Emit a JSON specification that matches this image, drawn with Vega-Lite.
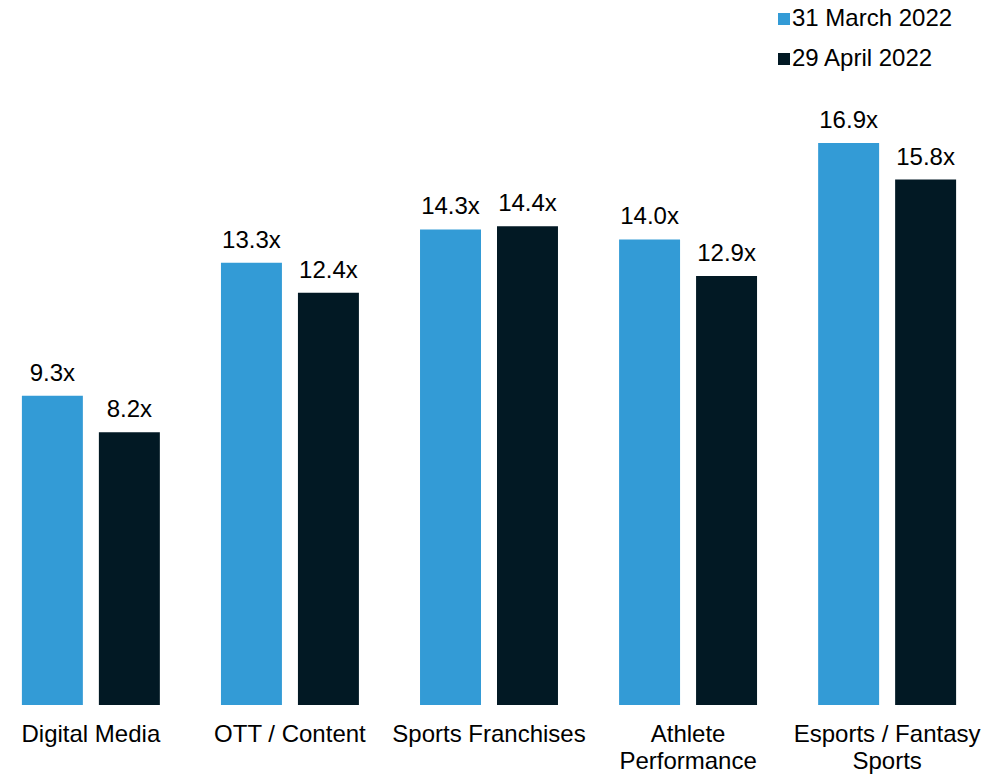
{
  "$schema": "https://vega.github.io/schema/vega-lite/v6.json",
  "autosize": "none",
  "width": 978,
  "height": 705,
  "padding": {"left": 0, "top": 0, "right": 26, "bottom": 69},
  "background": "white",
  "config": {"view": {"stroke": null}, "font": "Liberation Sans"},
  "data": {"values": [
    {"category": "Digital Media", "date": "31 March 2022", "value": 9.3, "label": "9.3x"},
    {"category": "Digital Media", "date": "29 April 2022", "value": 8.2, "label": "8.2x"},
    {"category": "OTT / Content", "date": "31 March 2022", "value": 13.3, "label": "13.3x"},
    {"category": "OTT / Content", "date": "29 April 2022", "value": 12.4, "label": "12.4x"},
    {"category": "Sports Franchises", "date": "31 March 2022", "value": 14.3, "label": "14.3x"},
    {"category": "Sports Franchises", "date": "29 April 2022", "value": 14.4, "label": "14.4x"},
    {"category": "Athlete Performance", "date": "31 March 2022", "value": 14.0, "label": "14.0x"},
    {"category": "Athlete Performance", "date": "29 April 2022", "value": 12.9, "label": "12.9x"},
    {"category": "Esports / Fantasy Sports", "date": "31 March 2022", "value": 16.9, "label": "16.9x"},
    {"category": "Esports / Fantasy Sports", "date": "29 April 2022", "value": 15.8, "label": "15.8x"}
  ]},
  "encoding": {
    "x": {
      "field": "category", "type": "nominal", "sort": null,
      "scale": {"paddingInner": 0.307, "paddingOuter": 0.11},
      "axis": {
        "title": null, "domain": false, "ticks": false, "labelAngle": 0,
        "labelFontSize": 24, "labelColor": "#000000", "labelPadding": 17,
        "labelLineHeight": 27, "labelBaseline": "top", "labelFont": "Liberation Sans",
        "labelLimit": 400, "labelOverlap": false,
        "labelExpr": "datum.value == 'Athlete Performance' ? ['Athlete', 'Performance'] : datum.value == 'Esports / Fantasy Sports' ? ['Esports / Fantasy', 'Sports'] : datum.value"
      }
    },
    "xOffset": {
      "field": "date", "type": "nominal",
      "sort": ["31 March 2022", "29 April 2022"],
      "scale": {"paddingInner": 0.208, "paddingOuter": 0}
    },
    "y": {
      "field": "value", "type": "quantitative",
      "scale": {"domain": [0, 21.2], "nice": false, "zero": true},
      "axis": null
    }
  },
  "layer": [
    {
      "mark": {"type": "bar"},
      "encoding": {
        "color": {
          "field": "date", "type": "nominal",
          "sort": ["31 March 2022", "29 April 2022"],
          "scale": {"domain": ["31 March 2022", "29 April 2022"], "range": ["#339BD6", "#021924"]},
          "legend": {
            "title": null, "orient": "none", "legendX": 772, "legendY": 7,
            "symbolType": "square", "symbolSize": 144, "symbolStrokeWidth": 0,
            "symbolOpacity": 1, "labelFontSize": 24, "labelColor": "#000000",
            "labelFont": "Liberation Sans", "labelLimit": 400,
            "rowPadding": 16, "labelOffset": -4, "padding": 0
          }
        }
      }
    },
    {
      "mark": {"type": "text", "baseline": "bottom", "dy": -10, "fontSize": 24, "color": "#000000", "font": "Liberation Sans"},
      "encoding": {
        "text": {"field": "label", "type": "nominal"},
        "detail": {"field": "date"}
      }
    }
  ]
}
